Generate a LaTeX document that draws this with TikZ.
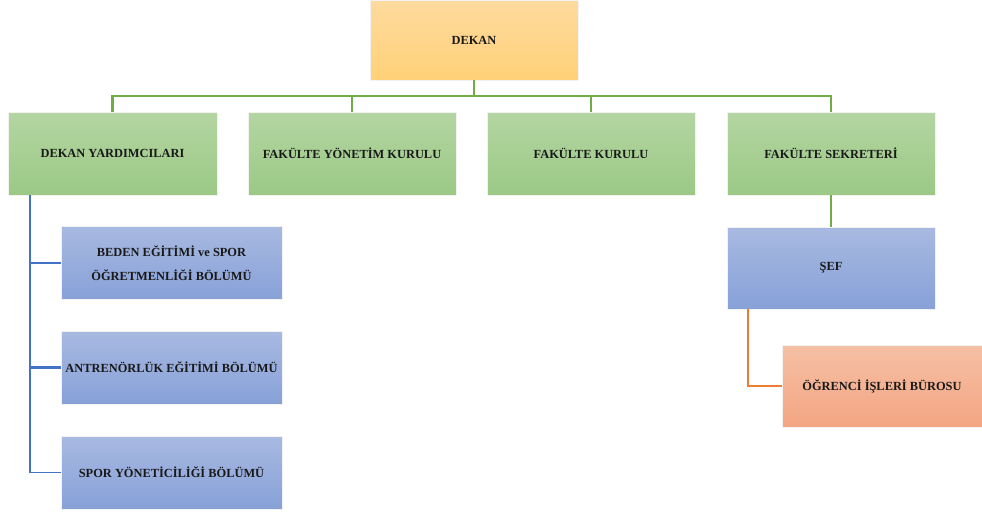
\documentclass[tikz,border=0pt]{standalone}
\usepackage{fontspec}
\setmainfont{Liberation Serif}
\begin{document}
\begin{tikzpicture}[x=1pt,y=-1pt,
  box/.style={inner sep=0pt, align=center, font=\fontsize{12.4}{24}\selectfont\bfseries, text=black!90, draw=white!90!gray, line width=0.6pt},
  orangebox/.style={box, top color=orgtop, bottom color=orgbot},
  greenbox/.style={box, top color=grntop, bottom color=grnbot},
  bluebox/.style={box, top color=blutop, bottom color=blubot},
  salmonbox/.style={box, top color=saltop, bottom color=salbot},
  gline/.style={draw=grnline, line width=2.6pt},
  bline/.style={draw=bluline, line width=2.6pt},
  bthin/.style={draw=bluline, line width=1.2pt},
  oline/.style={draw=orgline, line width=2.6pt}]
\definecolor{orgtop}{HTML}{FDDA9E}
\definecolor{orgbot}{HTML}{FFD178}
\definecolor{grntop}{HTML}{B4D5A2}
\definecolor{grnbot}{HTML}{9BC985}
\definecolor{blutop}{HTML}{A8B9E1}
\definecolor{blubot}{HTML}{87A1D8}
\definecolor{saltop}{HTML}{F5C0A5}
\definecolor{salbot}{HTML}{F4A582}
\definecolor{grnline}{HTML}{70AD47}
\definecolor{bluline}{HTML}{4472C4}
\definecolor{orgline}{HTML}{ED7D31}
\useasboundingbox (0,0) rectangle (982,515);
% nodes
\node[orangebox, minimum width=208pt, minimum height=80pt] (dekan) at (474,40) {DEKAN};
\node[greenbox, minimum width=209pt, minimum height=83pt] (yard) at (112.5,153.5) {DEKAN YARDIMCILARI};
\node[greenbox, minimum width=208pt, minimum height=83pt] (fyk) at (352,153.5) {FAKÜLTE YÖNETİM KURULU};
\node[greenbox, minimum width=208pt, minimum height=83pt] (fk) at (591,153.5) {FAKÜLTE KURULU};
\node[greenbox, minimum width=208pt, minimum height=83pt] (fs) at (831,153.5) {FAKÜLTE SEKRETERİ};
\node[bluebox, minimum width=221pt, minimum height=73pt] (beden) at (171.5,263) {BEDEN EĞİTİMİ ve SPOR\\ÖĞRETMENLİĞİ BÖLÜMÜ};
\node[bluebox, minimum width=221pt, minimum height=73pt] (antr) at (171.5,367.5) {ANTRENÖRLÜK EĞİTİMİ BÖLÜMÜ};
\node[bluebox, minimum width=221pt, minimum height=73pt] (spor) at (171.5,472.5) {SPOR YÖNETİCİLİĞİ BÖLÜMÜ};
\node[bluebox, minimum width=208pt, minimum height=82pt] (sef) at (831,268) {ŞEF};
\node[salmonbox, minimum width=200pt, minimum height=82pt] (ogr) at (882,386) {ÖĞRENCİ İŞLERİ BÜROSU};
% connectors
\coordinate (bus) at (474,96);
\draw[gline] (dekan.south) -- (bus);
\draw[gline] (yard.north) |- (bus) -| (fs.north);
\draw[gline] (fyk.north) -- (fyk.north |- bus);
\draw[gline] (fk.north) -- (fk.north |- bus);
\draw[gline] (fs.south) -- (sef.north);
\coordinate (vb) at (30,195);
\draw[bline] (vb) |- (beden.west);
\draw[bline] (vb) |- (antr.west);
\draw[bthin] (vb |- antr.west) |- (spor.west);
\draw[oline] (sef.south -| 748,0) |- (ogr.west);
\end{tikzpicture}
\end{document}
